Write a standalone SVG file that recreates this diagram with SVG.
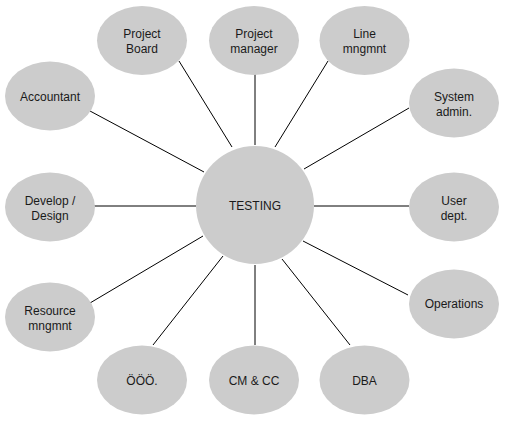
<svg xmlns="http://www.w3.org/2000/svg" width="510" height="424" viewBox="0 0 510 424">
<style>
.n{fill:#cccccc;stroke:none}
.t{font-family:"Liberation Sans",Arial,sans-serif;font-size:12px;fill:#1a1a1a;text-anchor:middle}
.c line{stroke:#000;stroke-width:1}
</style>
<rect width="510" height="424" fill="#fff"/>
<g class="c" id="connectors">
<line x1="90" y1="111" x2="204" y2="172"/>
<line x1="179" y1="61" x2="232" y2="147"/>
<line x1="255" y1="74" x2="255" y2="145"/>
<line x1="328" y1="61" x2="275" y2="147"/>
<line x1="409" y1="108" x2="304" y2="169"/>
<line x1="94" y1="206" x2="196" y2="206"/>
<line x1="314" y1="206" x2="409" y2="206"/>
<line x1="203" y1="236" x2="90" y2="303"/>
<line x1="223" y1="256" x2="153" y2="345"/>
<line x1="255" y1="265" x2="255" y2="345"/>
<line x1="282" y1="259" x2="350" y2="345"/>
<line x1="303" y1="241" x2="408" y2="295"/>
</g>
<g id="testing"><circle class="n" cx="255" cy="205" r="59"/><text class="t" x="255" y="210">TESTING</text></g>
<g id="project-board"><ellipse class="n" cx="142" cy="40.5" rx="45" ry="34.5"/><text class="t" x="142" y="38">Project</text><text class="t" x="142" y="53">Board</text></g>
<g id="project-manager"><ellipse class="n" cx="254" cy="40.5" rx="45" ry="34.5"/><text class="t" x="254" y="38">Project</text><text class="t" x="254" y="53">manager</text></g>
<g id="line-mngmnt"><ellipse class="n" cx="364.5" cy="40.5" rx="45" ry="34.5"/><text class="t" x="364.5" y="38">Line</text><text class="t" x="364.5" y="53">mngmnt</text></g>
<g id="accountant"><ellipse class="n" cx="50" cy="96" rx="45" ry="34.5"/><text class="t" x="50" y="101">Accountant</text></g>
<g id="system-admin"><ellipse class="n" cx="454" cy="103" rx="45" ry="34.5"/><text class="t" x="454" y="101">System</text><text class="t" x="454" y="116">admin.</text></g>
<g id="develop-design"><ellipse class="n" cx="50" cy="207" rx="45" ry="34.5"/><text class="t" x="50" y="205">Develop /</text><text class="t" x="50" y="220">Design</text></g>
<g id="user-dept"><ellipse class="n" cx="454" cy="207" rx="45" ry="34.5"/><text class="t" x="454" y="205">User</text><text class="t" x="454" y="220">dept.</text></g>
<g id="operations"><ellipse class="n" cx="454" cy="304" rx="45" ry="34.5"/><text class="t" x="454" y="308">Operations</text></g>
<g id="resource-mngmnt"><ellipse class="n" cx="50" cy="317" rx="45" ry="34.5"/><text class="t" x="50" y="315">Resource</text><text class="t" x="50" y="330">mngmnt</text></g>
<g id="ooo"><ellipse class="n" cx="142" cy="380" rx="45" ry="34.5"/><text class="t" x="142" y="385">ÖÖÖ.</text></g>
<g id="cm-cc"><ellipse class="n" cx="254" cy="380" rx="45" ry="34.5"/><text class="t" x="254" y="385">CM &amp; CC</text></g>
<g id="dba"><ellipse class="n" cx="364.5" cy="380" rx="45" ry="34.5"/><text class="t" x="364.5" y="385">DBA</text></g>
</svg>
